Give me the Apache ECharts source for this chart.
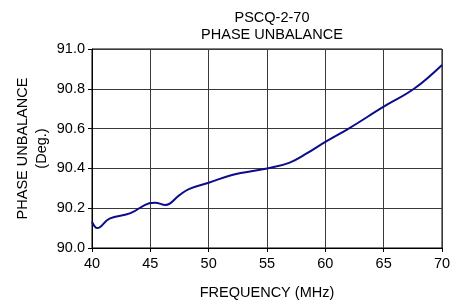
<!DOCTYPE html>
<html>
<head>
<meta charset="utf-8">
<script src="https://cdn.jsdelivr.net/npm/echarts@6/dist/echarts.min.js"></script>
<style>
  html, body { margin: 0; padding: 0; background: #fff; }
  #chart { width: 451px; height: 300px; }
</style>
</head>
<body>
<div id="chart"></div>
<script>
    // frequency (MHz) / phase unbalance (deg)
    var freq = [40, 40.45, 41.5, 43.3, 44.9, 45.4, 46.3, 47.5, 48.3, 50, 52, 55, 56.9, 58.4, 60, 62, 65, 67.6, 70];
    var phase = [90.132, 90.1, 90.148, 90.175, 90.225, 90.228, 90.216, 90.266, 90.296, 90.328, 90.367, 90.40, 90.428, 90.475, 90.533, 90.60, 90.71, 90.80, 90.92];
    var xTicks = [40, 45, 50, 55, 60, 65, 70];
    var yTicks = [90.0, 90.2, 90.4, 90.6, 90.8, 91.0];

    var points = [];
    for (var i = 0; i < freq.length; i++) {
        points.push([freq[i], phase[i]]);
    }

    var font = 'Liberation Sans, Arial, sans-serif';

    option = {
        animation: false,
        title: {
            text: 'PSCQ-2-70\nPHASE UNBALANCE',
            left: 267,
            top: 4,
            textAlign: 'center',
            textStyle: {
                fontFamily: font,
                fontSize: 14.5,
                fontWeight: 'normal',
                color: '#000',
                lineHeight: 17.5
            }
        },
        grid: {
            left: 92,
            right: 9,
            top: 49,
            bottom: 52,
            outerBoundsMode: 'none',
            containLabel: false,
            show: true,
            borderColor: '#000',
            borderWidth: 1
        },
        xAxis: {
            type: 'value',
            min: xTicks[0],
            max: xTicks[xTicks.length - 1],
            interval: 5,
            name: 'FREQUENCY (MHz)',
            nameLocation: 'middle',
            nameGap: 37.5,
            nameMoveOverlap: false,
            nameTextStyle: { fontFamily: font, fontSize: 14.5, color: '#000' },
            axisLine: { lineStyle: { color: '#000', width: 1 } },
            axisTick: { show: true, length: 4, lineStyle: { color: '#000' } },
            axisLabel: { fontFamily: font, fontSize: 14.5, color: '#000', margin: 8 },
            splitLine: { show: true, lineStyle: { color: '#3a3a3a', width: 1 } }
        },
        yAxis: {
            type: 'value',
            min: yTicks[0],
            max: yTicks[yTicks.length - 1],
            interval: 0.2,
            name: 'PHASE UNBALANCE\n(Deg.)',
            nameLocation: 'middle',
            nameRotate: 90,
            nameGap: 41,
            nameMoveOverlap: false,
            nameTextStyle: { fontFamily: font, fontSize: 14.5, color: '#000', lineHeight: 19 },
            axisLine: { show: true, lineStyle: { color: '#000', width: 1 } },
            axisTick: { show: true, length: 4, lineStyle: { color: '#000' } },
            axisLabel: {
                fontFamily: font, fontSize: 14.5, color: '#000', margin: 7,
                formatter: function (v) { return v.toFixed(1); }
            },
            splitLine: { show: true, lineStyle: { color: '#3a3a3a', width: 1 } }
        },
        series: [
            {
                type: 'line',
                data: points,
                smooth: 0.4,
                showSymbol: false,
                lineStyle: { color: '#0c0c8c', width: 2 }
            }
        ]
    };
    var myChart = echarts.init(document.getElementById('chart'));
    myChart.setOption(option);
</script>
</body>
</html>
